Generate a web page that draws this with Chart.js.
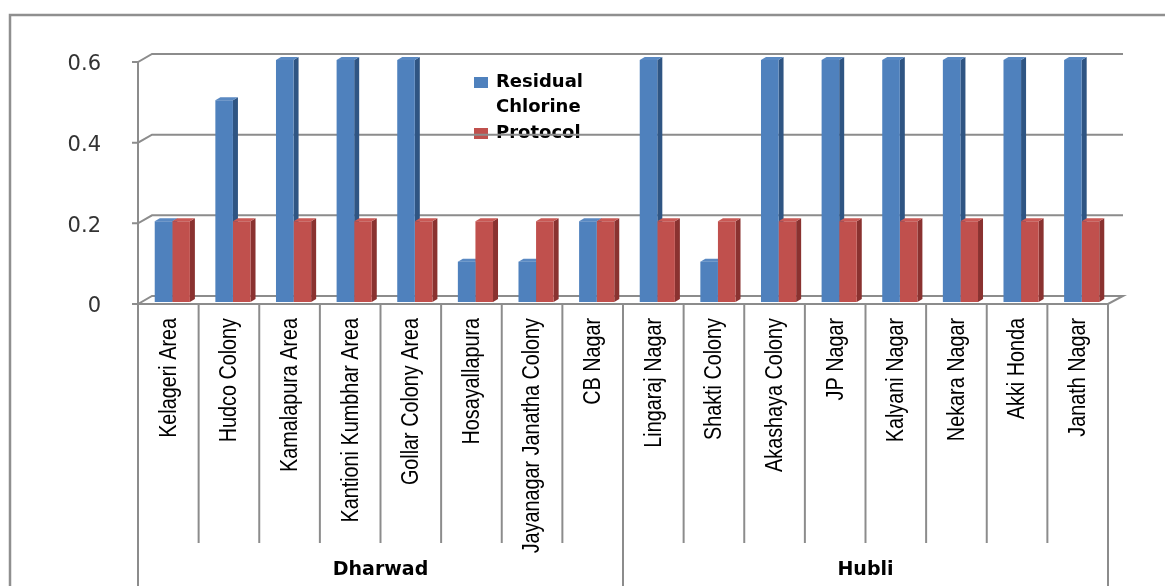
<!DOCTYPE html>
<html>
<head>
<meta charset="utf-8">
<script src="https://cdn.jsdelivr.net/npm/chart.js@4"></script>
<style>
  html, body { margin: 0; padding: 0; background: #fff; }
  canvas { display: block; }
</style>
</head>
<body>
<canvas id="chlorine" width="1165" height="586"></canvas>
<script>
// Sampling points, grouped by city
const areas = [
  "Kelageri Area", "Hudco Colony", "Kamalapura Area", "Kantioni Kumbhar Area",
  "Gollar Colony Area", "Hosayallapura", "Jayanagar Janatha Colony", "CB Nagar",
  "Lingaraj Nagar", "Shakti Colony", "Akashaya Colony", "JP Nagar",
  "Kalyani Nagar", "Nekara Nagar", "Akki Honda", "Janath Nagar"
];
const cities = ["Dharwad", "Hubli"];
const citySizes = [8, 8];

// Measured residual chlorine and the protocol level
const residualChlorine = [0.2, 0.5, 0.6, 0.6, 0.6, 0.1, 0.1, 0.2, 0.6, 0.1, 0.6, 0.6, 0.6, 0.6, 0.6, 0.6];
const protocolLevel = [0.2, 0.2, 0.2, 0.2, 0.2, 0.2, 0.2, 0.2, 0.2, 0.2, 0.2, 0.2, 0.2, 0.2, 0.2, 0.2];
const seriesNames = ["Residual Chlorine", "Protocol"];
const yTicks = [0, 0.2, 0.4, 0.6];

// front / side / top shades per series
const shades = [
  { front: "#4F81BD", side: "#2F5583", top: "#5A89C2" },
  { front: "#C0504D", side: "#8A3230", top: "#C95955" }
];

const LINE = "#8c8c8c";
const BAR_SHIFT = 4;          // bars sit a little behind the front edge
const BAR_DEPTH = { dx: 5, dy: 3 };
const WALL = { dx: 15, dy: 8 };
const NARROW = 0.86;          // horizontal squeeze for the area names

function wrapWords(ctx, text, maxWidth) {
  const words = text.split(" ");
  const lines = [];
  let cur = "";
  words.forEach(w => {
    const test = cur ? cur + " " + w : w;
    if (cur && ctx.measureText(test).width > maxWidth) {
      lines.push(cur);
      cur = w;
    } else {
      cur = test;
    }
  });
  if (cur) lines.push(cur);
  return lines;
}

// Excel-style 3D look: walls, floor, bar sides and tops, category table
const pseudo3d = {
  id: "pseudo3d",
  beforeDatasetsDraw(chart) {
    const { ctx, chartArea: a, scales: { x, y } } = chart;
    ctx.save();

    // legend (the wall lines run across it)
    ctx.font = "bold 18px 'DejaVu Sans'";
    ctx.textBaseline = "middle";
    ctx.textAlign = "left";
    let ly = 82;
    chart.data.datasets.forEach((ds, i) => {
      ctx.fillStyle = shades[i].front;
      ctx.fillRect(474, ly - 5, 14, 11);
      ctx.fillStyle = "#000";
      wrapWords(ctx, ds.label, 95).forEach(line => {
        ctx.fillText(line, 496, ly);
        ly += 25.5;
      });
    });

    // wall gridlines and axis ticks
    ctx.strokeStyle = LINE;
    ctx.lineWidth = 2;
    ctx.font = "21px 'DejaVu Sans'";
    ctx.fillStyle = "#333";
    ctx.textAlign = "right";
    yTicks.forEach(v => {
      const yp = y.getPixelForValue(v);
      const front = yp + 2;
      const back = front - WALL.dy;
      ctx.beginPath();
      ctx.moveTo(a.left - 6, front);
      ctx.lineTo(a.left, front);
      ctx.lineTo(a.left + WALL.dx - 1, back);
      ctx.lineTo(a.right + WALL.dx, back);
      if (v === 0) {
        ctx.lineTo(a.right, front);
        ctx.lineTo(a.left, front);
      }
      ctx.stroke();
      ctx.fillText(String(v), a.left - 37, yp + 5);
    });

    // value axis line, continuing down as the table's left edge
    ctx.beginPath();
    ctx.moveTo(a.left, y.getPixelForValue(yTicks[yTicks.length - 1]) + 2);
    ctx.lineTo(a.left, chart.height);
    ctx.stroke();

    // bar sides and tops, drawn behind the front faces
    chart.data.datasets.forEach((ds, d) => {
      const meta = chart.getDatasetMeta(d);
      meta.data.forEach(el => {
        const p = el.getProps(["x", "y", "base", "width"], true);
        const x0 = p.x - p.width / 2 + BAR_SHIFT;
        const x1 = x0 + p.width;
        ctx.fillStyle = shades[d].side;
        ctx.beginPath();
        ctx.moveTo(x1, p.y);
        ctx.lineTo(x1 + BAR_DEPTH.dx, p.y - BAR_DEPTH.dy);
        ctx.lineTo(x1 + BAR_DEPTH.dx, p.base - BAR_DEPTH.dy);
        ctx.lineTo(x1, p.base);
        ctx.closePath();
        ctx.fill();
        ctx.fillStyle = shades[d].top;
        ctx.beginPath();
        ctx.moveTo(x0, p.y);
        ctx.lineTo(x0 + BAR_DEPTH.dx, p.y - BAR_DEPTH.dy);
        ctx.lineTo(x1 + BAR_DEPTH.dx, p.y - BAR_DEPTH.dy);
        ctx.lineTo(x1, p.y);
        ctx.closePath();
        ctx.fill();
      });
    });
    ctx.restore();

    // front faces get the same shift
    ctx.save();
    ctx.translate(BAR_SHIFT, 0);
  },
  afterDatasetsDraw(chart) {
    chart.ctx.restore();
  },
  afterDraw(chart) {
    const { ctx, chartArea: a, scales: { x } } = chart;
    const n = chart.data.labels.length;
    const cell = (a.right - a.left) / n;
    const top = a.bottom + 2;
    ctx.save();
    ctx.strokeStyle = LINE;
    ctx.lineWidth = 2;

    // cell separators; city boundaries run to the bottom
    const bounds = [0];
    citySizes.forEach(s => bounds.push(bounds[bounds.length - 1] + s));
    for (let i = 1; i <= n; i++) {
      const bx = a.left + i * cell;
      ctx.beginPath();
      ctx.moveTo(bx, top);
      ctx.lineTo(bx, bounds.includes(i) ? chart.height : a.bottom + 241);
      ctx.stroke();
    }

    // rotated area names, squeezed along the text direction
    ctx.fillStyle = "#000";
    ctx.font = "23px 'Liberation Sans', Arial, sans-serif";
    ctx.textAlign = "right";
    ctx.textBaseline = "middle";
    chart.data.labels.forEach((lab, i) => {
      ctx.save();
      ctx.translate(x.getPixelForValue(i) + 1, a.bottom + 16);
      ctx.rotate(-Math.PI / 2);
      ctx.scale(NARROW, 1);
      ctx.fillText(lab, 0, 0);
      ctx.restore();
    });

    // city names
    ctx.font = "bold 19px 'DejaVu Sans'";
    ctx.textAlign = "center";
    cities.forEach((c, k) => {
      const cx = a.left + (bounds[k] + bounds[k + 1]) / 2 * cell;
      ctx.fillText(c, cx, 570);
    });

    // outer frame
    ctx.strokeStyle = "#8f8f8f";
    ctx.lineWidth = 2.5;
    ctx.beginPath();
    ctx.moveTo(10, chart.height);
    ctx.lineTo(10, 15);
    ctx.lineTo(chart.width, 15);
    ctx.stroke();
    ctx.restore();
  }
};

new Chart(document.getElementById("chlorine"), {
  type: "bar",
  data: {
    labels: areas,
    datasets: [
      { label: seriesNames[0], data: residualChlorine, backgroundColor: shades[0].front },
      { label: seriesNames[1], data: protocolLevel, backgroundColor: shades[1].front }
    ]
  },
  options: {
    responsive: false,
    animation: false,
    devicePixelRatio: 1,
    datasets: { bar: { categoryPercentage: 0.58, barPercentage: 1.0, borderWidth: 0 } },
    layout: { padding: { left: 138, right: 57, top: 60, bottom: 284 } },
    scales: {
      x: { display: false },
      y: { display: false, min: 0, max: 0.6 }
    },
    plugins: {
      legend: { display: false },
      tooltip: { enabled: false }
    }
  },
  plugins: [pseudo3d]
});
</script>
</body>
</html>
